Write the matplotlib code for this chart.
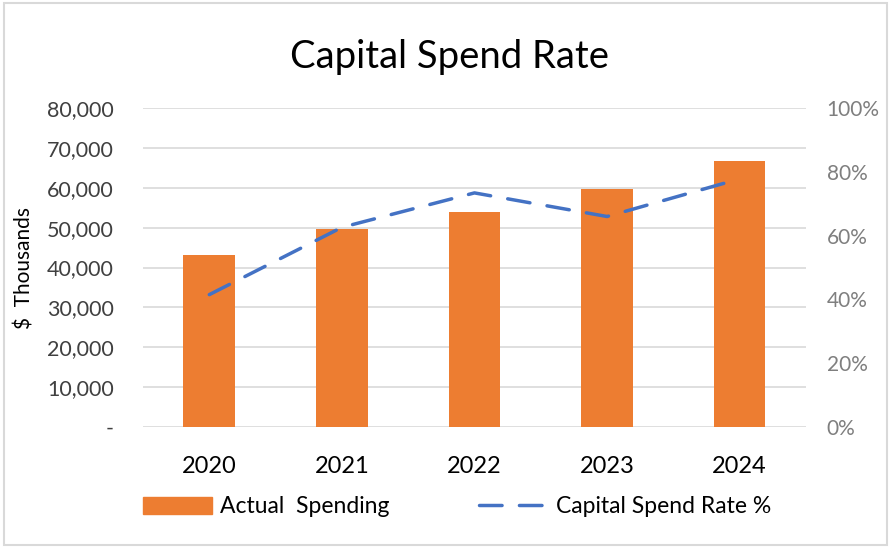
import matplotlib
matplotlib.use("Agg")
import matplotlib.pyplot as plt
from matplotlib.patches import Rectangle
from matplotlib.lines import Line2D
from matplotlib.ticker import FuncFormatter

years = ["2020", "2021", "2022", "2023", "2024"]
actual_spending = [43100, 49700, 54000, 59600, 66800]
spend_rate_pct = [41.5, 62.6, 73.4, 66.0, 77.8]

plt.rcParams['font.family'] = ['Lato', 'DejaVu Sans']

BAR_COLOR = '#ED7D31'
LINE_COLOR = '#4472C4'
DASH = (0, (6.5, 5))

fig = plt.figure(figsize=(8.91, 5.48), dpi=100)
fig.patches.append(Rectangle((0.005, 0.006), 0.99, 0.988, transform=fig.transFigure,
                             fill=False, edgecolor='#d9d9d9', linewidth=1.5))

ax = fig.add_axes([0.1605, 0.2208, 0.744, 0.582])
x = list(range(len(years)))
ax.bar(x, actual_spending, width=0.39, color=BAR_COLOR, zorder=3)
ax.set_xlim(-0.5, 4.5)
ax.set_ylim(0, 80000)
ax.set_yticks(range(0, 80001, 10000))
ax.yaxis.set_major_formatter(FuncFormatter(lambda v, p: '-' if v == 0 else f'{int(v):,}'))
ax.grid(axis='y', color='#d9d9d9', linewidth=1.2, zorder=0)
ax.set_axisbelow(True)
for s in ax.spines.values():
    s.set_visible(False)
ax.set_xticks(x)
ax.set_xticklabels(years, fontsize=17, color='#000000')
ax.tick_params(axis='x', length=0, pad=21)
ax.tick_params(axis='y', length=0, pad=21, labelsize=15.5, labelcolor='#404040')
ax.set_ylabel('$  Thousands', fontsize=15, color='#000000', labelpad=9)

ax2 = ax.twinx()
ax2.plot(x, spend_rate_pct, color=LINE_COLOR, linewidth=2.5, linestyle=DASH,
         dash_capstyle='round', zorder=4)
ax2.set_ylim(0, 100)
ax2.set_yticks(range(0, 101, 20))
ax2.yaxis.set_major_formatter(FuncFormatter(lambda v, p: f'{int(v)}%'))
ax2.tick_params(axis='y', length=0, pad=15, labelsize=15, labelcolor='#7f7f7f')
for s in ax2.spines.values():
    s.set_visible(False)

fig.text(0.505, 0.896, 'Capital Spend Rate', ha='center', va='center', fontsize=27.5, color='#000000')

handles = [Rectangle((0, 0), 1, 1, color=BAR_COLOR),
           Line2D([0], [0], color=LINE_COLOR, linewidth=2.5, linestyle=DASH,
                  dash_capstyle='round')]
fig.legend(handles, ['Actual  Spending', 'Capital Spend Rate %'], loc='center',
           bbox_to_anchor=(0.513, 0.075), ncol=2, frameon=False, fontsize=16.5,
           handlelength=3.0, handleheight=0.8, columnspacing=3.9, handletextpad=0.35)

fig.savefig('out.png', dpi=100)
